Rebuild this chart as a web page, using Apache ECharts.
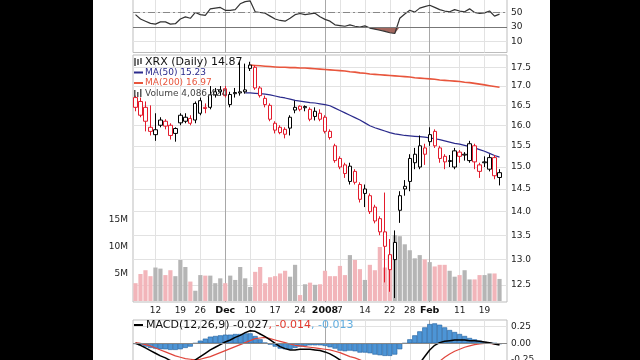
<!DOCTYPE html>
<html><head><meta charset="utf-8">
<script src="https://cdn.jsdelivr.net/npm/echarts@6/dist/echarts.min.js"></script>
<style>html,body{margin:0;padding:0;background:#000}#c{width:640px;height:360px}</style>
</head><body><div id="c"></div>
<script>
const dates = ['2007-11-06','2007-11-07','2007-11-08','2007-11-09','2007-11-12','2007-11-13','2007-11-14','2007-11-15','2007-11-16','2007-11-19','2007-11-20','2007-11-21','2007-11-23','2007-11-26','2007-11-27','2007-11-28','2007-11-29','2007-11-30','2007-12-03','2007-12-04','2007-12-05','2007-12-06','2007-12-07','2007-12-10','2007-12-11','2007-12-12','2007-12-13','2007-12-14','2007-12-17','2007-12-18','2007-12-19','2007-12-20','2007-12-21','2007-12-24','2007-12-26','2007-12-27','2007-12-28','2007-12-31','2008-01-02','2008-01-03','2008-01-04','2008-01-07','2008-01-08','2008-01-09','2008-01-10','2008-01-11','2008-01-14','2008-01-15','2008-01-16','2008-01-17','2008-01-18','2008-01-22','2008-01-23','2008-01-24','2008-01-25','2008-01-28','2008-01-29','2008-01-30','2008-01-31','2008-02-01','2008-02-04','2008-02-05','2008-02-06','2008-02-07','2008-02-08','2008-02-11','2008-02-12','2008-02-13','2008-02-14','2008-02-15','2008-02-19','2008-02-20','2008-02-21','2008-02-22'];
const open  = [16.70,16.60,16.45,15.95,15.77,16.00,16.10,16.00,15.92,16.25,16.10,16.17,16.13,16.30,16.45,16.45,16.77,16.85,16.93,16.52,16.80,16.82,16.85,17.47,17.50,16.95,16.52,16.50,16.05,15.95,15.90,15.93,16.38,16.48,16.47,16.40,16.22,16.30,16.20,15.85,15.50,15.20,15.05,14.67,14.90,14.60,14.40,14.35,14.10,13.85,13.57,12.80,13.00,14.03,14.56,14.67,15.10,15.00,15.45,15.60,15.85,15.45,15.25,15.15,15.00,15.35,15.30,15.15,15.50,15.05,15.12,14.95,15.22,14.76];
const high  = [16.75,16.70,16.60,16.50,16.30,16.20,16.15,16.05,15.95,16.30,16.30,16.25,16.60,16.70,16.55,17.00,16.95,17.00,17.00,16.85,16.95,17.65,17.60,17.65,17.55,17.00,16.75,16.55,16.10,16.00,15.95,16.25,16.62,16.50,16.50,16.45,16.45,16.40,16.25,15.90,15.55,15.25,15.10,15.10,14.95,14.65,14.60,14.40,14.15,13.90,14.42,13.42,13.60,14.45,14.70,15.30,15.45,15.75,15.55,15.95,15.90,15.50,15.30,15.28,15.45,15.40,15.35,15.62,15.55,15.10,15.25,15.30,15.28,14.95];
const low   = [16.35,16.20,15.85,15.75,15.62,15.95,15.90,15.65,15.60,16.00,16.05,16.00,16.05,16.25,16.30,16.40,16.70,16.75,16.70,16.45,16.70,16.75,16.80,17.40,16.90,16.70,16.45,16.10,15.80,15.78,15.68,15.75,16.30,16.35,16.35,16.10,16.12,16.10,15.80,15.65,15.10,14.95,14.75,14.60,14.60,14.20,14.10,13.95,13.75,13.50,12.55,12.37,12.25,13.76,14.35,14.45,14.95,14.95,15.05,15.50,15.45,15.10,14.95,15.00,14.95,15.10,15.15,15.10,14.95,14.75,15.00,14.90,14.72,14.58];
const close = [16.45,16.25,16.10,15.85,15.89,16.13,15.98,15.75,15.80,16.06,16.20,16.05,16.55,16.62,16.42,16.77,16.85,16.90,16.75,16.78,16.83,16.85,16.90,17.56,16.95,16.75,16.68,16.15,15.88,15.82,15.78,16.20,16.45,16.40,16.44,16.15,16.35,16.15,15.85,15.70,15.15,15.00,14.85,15.02,14.65,14.27,14.50,14.00,13.80,13.57,13.27,13.10,13.35,14.35,14.50,15.20,15.30,15.50,15.30,15.77,15.50,15.20,15.12,15.13,15.38,15.25,15.28,15.55,15.12,14.90,15.10,15.22,14.80,14.87];
const volumeM = [3.3,5.0,5.7,4.6,6.2,6.0,4.8,5.7,4.6,7.6,6.3,3.6,1.9,4.8,4.7,4.7,3.3,4.2,3.3,4.7,3.9,6.3,4.2,2.6,5.4,6.3,3.3,4.4,4.6,5.1,5.6,4.5,6.7,1.1,3.1,3.4,3.0,3.1,5.6,4.6,4.6,6.5,4.8,8.5,7.6,5.9,3.9,6.7,5.7,10.0,6.2,8.5,12.2,12.0,10.5,9.4,7.9,8.5,7.7,7.2,6.4,6.7,6.7,5.6,4.5,4.8,5.7,4.0,4.0,4.8,4.8,5.1,5.1,4.086424];
const ma50 = [null,null,null,null,null,null,null,null,null,null,null,null,null,null,null,null,null,null,null,null,null,null,16.82,16.82,16.81,16.80,16.79,16.77,16.74,16.71,16.69,16.66,16.63,16.61,16.59,16.57,16.56,16.54,16.52,16.49,16.43,16.37,16.31,16.25,16.19,16.13,16.06,15.99,15.94,15.90,15.86,15.82,15.79,15.77,15.75,15.74,15.73,15.72,15.71,15.69,15.67,15.65,15.62,15.59,15.56,15.54,15.51,15.48,15.45,15.41,15.37,15.32,15.27,15.23];
const ma200 = [null,null,null,null,null,null,null,null,null,null,null,null,null,null,null,null,null,null,null,null,null,null,null,17.56,17.55,17.54,17.53,17.52,17.51,17.50,17.50,17.49,17.49,17.48,17.48,17.47,17.46,17.45,17.44,17.43,17.42,17.41,17.40,17.38,17.37,17.35,17.34,17.32,17.31,17.30,17.29,17.28,17.27,17.26,17.25,17.24,17.22,17.21,17.20,17.19,17.18,17.16,17.15,17.14,17.13,17.12,17.10,17.09,17.07,17.05,17.03,17.01,16.99,16.97];
const rsi = [47,41,38,35,34,37,37,34,34.5,41,44,42,50,47,46,55,56,57,53,53,54,62,65,66,51,50,49,45,41,39,38,42,47,48.6,47,48,49,44,40.5,38,33,32,31,33,31,30,31.5,28.5,27,25.5,24,22,21,42,48,53,50.5,56,58,60,57,54,52,51,54,52,51,55,50,48.6,49.5,52,45,47.7];
const macd = [0.0,-0.03,-0.07,-0.11,-0.15,-0.19,-0.22,-0.26,-0.29,-0.3,-0.3,-0.29,-0.25,-0.2,-0.15,-0.1,-0.06,-0.02,0.02,0.05,0.09,0.12,0.16,0.19,0.18,0.14,0.1,0.05,0.0,-0.05,-0.08,-0.1,-0.1,-0.09,-0.09,-0.09,-0.1,-0.11,-0.13,-0.16,-0.2,-0.25,-0.29,-0.31,-0.34,-0.39,-0.42,-0.46,-0.51,-0.56,-0.61,-0.65,-0.66,-0.6,-0.51,-0.45,-0.38,-0.3,-0.2,-0.1,-0.03,0.01,0.03,0.04,0.05,0.05,0.05,0.04,0.04,0.03,0.02,0.01,-0.01,-0.027];
const signal = [0.01,0.0,-0.02,-0.04,-0.07,-0.1,-0.13,-0.16,-0.19,-0.21,-0.23,-0.24,-0.25,-0.24,-0.22,-0.2,-0.17,-0.14,-0.11,-0.08,-0.05,-0.02,0.01,0.04,0.07,0.08,0.09,0.07,0.05,0.03,0.01,-0.01,-0.03,-0.04,-0.05,-0.06,-0.07,-0.08,-0.09,-0.1,-0.12,-0.14,-0.17,-0.2,-0.22,-0.25,-0.28,-0.31,-0.34,-0.38,-0.42,-0.46,-0.49,-0.51,-0.51,-0.51,-0.5,-0.48,-0.44,-0.39,-0.33,-0.27,-0.21,-0.16,-0.12,-0.09,-0.06,-0.04,-0.02,-0.01,0.0,0.0,-0.01,-0.014];
const hist = [-0.01,-0.03,-0.05,-0.07,-0.08,-0.09,-0.09,-0.1,-0.1,-0.09,-0.07,-0.05,0.0,0.04,0.07,0.1,0.11,0.12,0.13,0.13,0.14,0.14,0.15,0.15,0.11,0.06,0.01,-0.02,-0.05,-0.08,-0.09,-0.09,-0.07,-0.05,-0.04,-0.03,-0.03,-0.03,-0.04,-0.06,-0.08,-0.11,-0.12,-0.11,-0.12,-0.14,-0.14,-0.15,-0.17,-0.18,-0.19,-0.19,-0.17,-0.09,0.0,0.06,0.12,0.18,0.24,0.29,0.3,0.28,0.24,0.2,0.17,0.14,0.11,0.08,0.06,0.04,0.02,0.01,0.0,-0.013];
const tickIdx = [4,9,13,18,23,28,33,38,41,46,51,55,59,65,70];
const tickLabels = ['12','19','26','Dec','10','17','24','2008','7','14','22','28','Feb','11','19'];
const monthLabels = ['Dec','2008','Feb'];
const priceTicks = [12.5,13,13.5,14,14.5,15,15.5,16,16.5,17,17.5];
const volTicks = [5,10,15];
const rsiTicks = [10,30,50,70];
const macdTicks = [-0.25,0,0.25];

const N = dates.length;
const FONT = 'DejaVu Sans';
const ln = Math.log;
const RED = '#e31b2c';
const chart = echarts.init(document.getElementById('c'), null, {renderer:'canvas', width:640, height:360});

const tickColors = tickLabels.map(l => monthLabels.includes(l) ? '#a8a8a8' : '#e2e2e2');
function xAxisDef(gi, showLabel, showSplit) {
  return {
    type:'value', gridIndex:gi, min:-0.5, max:N+0.5, position:'bottom',
    axisLine:{show:false}, axisTick:{show:false, customValues:tickIdx},
    axisLabel:{show:showLabel, customValues:tickIdx, margin:4, fontFamily:FONT, fontSize:9, color:'#222',
      formatter: v => { const i = tickIdx.indexOf(Math.round(v)); if (i < 0) return ''; const l = tickLabels[i];
        return monthLabels.includes(l) ? '{b|' + l + '}' : l; },
      rich:{b:{fontWeight:'bold', fontFamily:FONT, fontSize:9.5, color:'#111'}}},
    splitLine:{show:showSplit, lineStyle:{color:tickColors, width:1}}
  };
}
const gridBase = {left:133, right:133, containLabel:false, outerBoundsMode:'none'};
const lnTop = ln(17.5) + (67.3 - 55) / 647;
const lnBot = ln(17.5) - (302 - 67.3) / 647;

const candleData = close.map((c, i) => {
  const prev = i > 0 ? close[i-1] : open[i];
  const col = c >= prev ? '#000000' : RED;
  return {value:[i, ln(open[i]), ln(c), ln(low[i]), ln(high[i])],
    itemStyle:{color:'#ffffff', color0:col, borderColor:col, borderColor0:col, borderColorDoji:col, borderWidth:1}};
});
const volData = volumeM.map((v, i) => {
  const up = i > 0 ? close[i] >= close[i-1] : close[i] >= open[i];
  return {value:[i, v], itemStyle:{color: up ? '#b5b5b5' : '#f2b5ba'}};
});
const toXY = arr => arr.map((v, i) => v == null ? null : [i, v]).filter(p => p);

const legendFont = '11px "DejaVu Sans"';
const smallFont = '9px "DejaVu Sans"';
const option = {
  backgroundColor:'#000',
  animation:false,
  textStyle:{fontFamily:FONT},
  graphic:[
    {type:'rect', z:-10, silent:true, shape:{x:93, y:0, width:457, height:360}, style:{fill:'#ffffff'}},
    {type:'line', z:20, shape:{x1:135, y1:58, x2:135, y2:66}, style:{stroke:'#444', lineWidth:1.5}},
    {type:'line', z:20, shape:{x1:138, y1:59, x2:138, y2:65}, style:{stroke:'#444', lineWidth:1.5}},
    {type:'line', z:20, shape:{x1:141, y1:58, x2:141, y2:64}, style:{stroke:'#444', lineWidth:1.5}},
    {type:'text', z:20, style:{x:145, y:62, text:'XRX (Daily) ' + close[N-1].toFixed(2), font:legendFont, fill:'#111', verticalAlign:'middle'}},
    {type:'line', z:20, shape:{x1:134, y1:72.5, x2:143, y2:72.5}, style:{stroke:'#2b2b8c', lineWidth:2}},
    {type:'text', z:20, style:{x:145, y:72.5, text:'MA(50) ' + ma50[N-1].toFixed(2), font:smallFont, fill:'#2b2b8c', verticalAlign:'middle'}},
    {type:'line', z:20, shape:{x1:134, y1:83, x2:143, y2:83}, style:{stroke:'#e8553c', lineWidth:2}},
    {type:'text', z:20, style:{x:145, y:83, text:'MA(200) ' + ma200[N-1].toFixed(2), font:smallFont, fill:'#e8553c', verticalAlign:'middle'}},
    {type:'rect', z:20, shape:{x:134, y:90, width:1.5, height:7}, style:{fill:'#555'}},
    {type:'rect', z:20, shape:{x:137, y:92, width:1.5, height:5}, style:{fill:'#555'}},
    {type:'rect', z:20, shape:{x:140, y:89, width:1.5, height:8}, style:{fill:'#555'}},
    {type:'text', z:20, style:{x:145, y:93.5, text:'Volume ' + Math.round(volumeM[N-1]*1e6).toLocaleString('en-US'), font:smallFont, fill:'#444', verticalAlign:'middle'}},
    {type:'line', z:20, shape:{x1:134, y1:325, x2:143, y2:325}, style:{stroke:'#000', lineWidth:2}},
    {type:'text', z:20, style:{x:146, y:325, verticalAlign:'middle', font:legendFont,
      text:'{a|MACD(12,26,9) ' + macd[N-1].toFixed(3) + '}{r|, ' + signal[N-1].toFixed(3) + '}{c|, ' + hist[N-1].toFixed(3) + '}',
      rich:{a:{fill:'#111', font:legendFont}, r:{fill:'#e23a2e', font:legendFont}, c:{fill:'#62aee0', font:legendFont}}}}
  ],
  grid:[
    Object.assign({top:-30, height:82.5, show:true, borderColor:'#bdbdbd', borderWidth:1, backgroundColor:'transparent'}, gridBase),
    Object.assign({top:55, height:247, show:true, borderColor:'#bdbdbd', borderWidth:1, backgroundColor:'transparent'}, gridBase),
    Object.assign({top:55, height:246, show:false}, gridBase),
    Object.assign({top:320, height:60, show:true, borderColor:'#bdbdbd', borderWidth:1, backgroundColor:'transparent'}, gridBase)
  ],
  xAxis:[xAxisDef(0,false,true), xAxisDef(1,true,true), xAxisDef(2,false,false), xAxisDef(3,false,true)],
  yAxis:[
    {type:'value', gridIndex:0, min:-5.2, max:108.6, position:'right', axisLine:{show:false}, axisTick:{show:false, customValues:rsiTicks},
      axisLabel:{customValues:rsiTicks, margin:4, fontFamily:FONT, fontSize:9, color:'#222'}, splitLine:{show:true, lineStyle:{color:'#e2e2e2'}}},
    {type:'value', gridIndex:1, min:lnBot, max:lnTop, position:'right', axisLine:{show:false}, axisTick:{show:false, customValues:priceTicks.map(ln)},
      axisLabel:{customValues:priceTicks.map(ln), margin:4, fontFamily:FONT, fontSize:9, color:'#222', formatter:v => Math.exp(v).toFixed(1)},
      splitLine:{show:true, lineStyle:{color:'#e2e2e2'}}},
    {type:'value', gridIndex:2, min:0, max:45.56, position:'left', axisLine:{show:false}, axisTick:{show:false, customValues:volTicks},
      axisLabel:{customValues:volTicks, margin:5, fontFamily:FONT, fontSize:9, color:'#222', formatter:v => v + 'M'}, splitLine:{show:false}},
    {type:'value', gridIndex:3, min:-0.553, max:0.351, position:'right', axisLine:{show:false}, axisTick:{show:false, customValues:macdTicks},
      axisLabel:{customValues:macdTicks, margin:4, fontFamily:FONT, fontSize:9, color:'#222', formatter:v => v.toFixed(2)},
      splitLine:{show:true, lineStyle:{color:'#e2e2e2'}}}
  ],
  series:[
    {type:'custom', xAxisIndex:0, yAxisIndex:0, silent:true, z:1, data:[[0, 30]],
      renderItem:(params, api) => {
        const pts = [];
        rsi.forEach((r, i) => pts.push(api.coord([i, Math.min(r, 30)])));
        for (let i = rsi.length - 1; i >= 0; i--) pts.push(api.coord([i, 30]));
        return {type:'polygon', shape:{points:pts}, style:{fill:'#a3675e'}};
      }},
    {type:'line', xAxisIndex:0, yAxisIndex:0, data:toXY(rsi), symbol:'none', z:3, lineStyle:{color:'#333', width:1.2},
      markLine:{silent:true, symbol:['none','none'], label:{show:false},
        data:[{yAxis:30, lineStyle:{color:'#777', width:1, type:'solid'}},
              {yAxis:50, lineStyle:{color:'#888', width:1, type:[7,3,2,3]}},
              {yAxis:70, lineStyle:{color:'#777', width:1, type:'solid'}}]}},
    {type:'bar', xAxisIndex:2, yAxisIndex:2, data:volData, barWidth:4.2, z:1},
    {type:'line', xAxisIndex:1, yAxisIndex:1, data:toXY(ma200.map(v => v == null ? null : ln(v))), symbol:'none', z:3, lineStyle:{color:'#e8553c', width:1.6}},
    {type:'line', xAxisIndex:1, yAxisIndex:1, data:toXY(ma50.map(v => v == null ? null : ln(v))), symbol:'none', z:3, lineStyle:{color:'#2b2b8c', width:1.2}},
    {type:'candlestick', xAxisIndex:1, yAxisIndex:1, data:candleData, barWidth:3.8, z:5},
    {type:'bar', xAxisIndex:3, yAxisIndex:3, data:toXY(hist), barWidth:5, z:2, itemStyle:{color:'#4d95d6', borderColor:'#1f5e9e', borderWidth:0.6},
      markLine:{silent:true, symbol:['none','none'], label:{show:false}, data:[{yAxis:0, lineStyle:{color:'#888', width:1, type:'solid'}}]}},
    {type:'line', xAxisIndex:3, yAxisIndex:3, data:toXY(signal), symbol:'none', z:3, lineStyle:{color:'#e0463c', width:1.2}},
    {type:'line', xAxisIndex:3, yAxisIndex:3, data:toXY(macd), symbol:'none', z:4, lineStyle:{color:'#000', width:1.5}}
  ]
};
chart.setOption(option);
</script></body></html>
